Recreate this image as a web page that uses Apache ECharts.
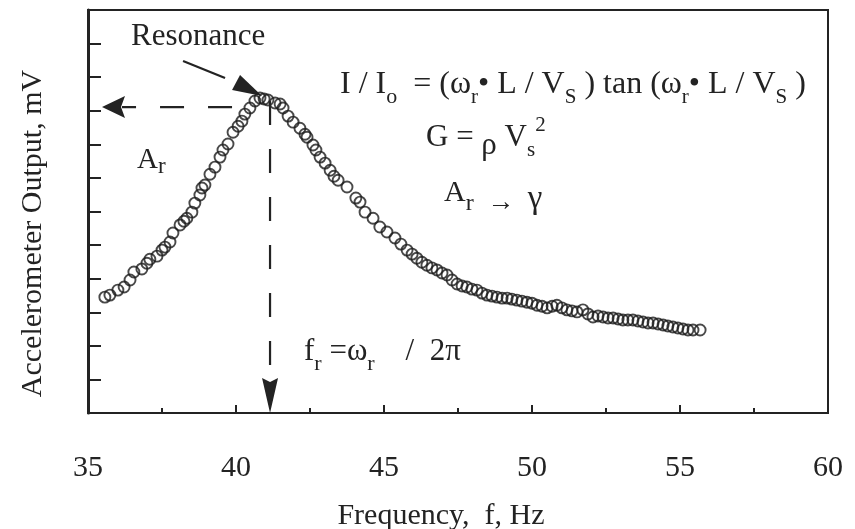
<!DOCTYPE html>
<html>
<head>
<meta charset="utf-8">
<script src="https://cdn.jsdelivr.net/npm/echarts@6/dist/echarts.min.js"></script>
<style>
  html, body { margin: 0; padding: 0; background: #ffffff; }
  #chart { width: 855px; height: 529px; }
</style>
</head>
<body>
<div id="chart"></div>
<script>
// Measured response of the accelerometer over the frequency sweep
const freqHz = [
  35.57, 35.74, 36.01, 36.22, 36.42, 36.55, 36.82, 36.99, 37.09, 37.33,
  37.50, 37.60, 37.77, 37.87, 38.11, 38.24, 38.34, 38.51, 38.61, 38.78,
  38.85, 38.95, 39.12, 39.29, 39.46, 39.56, 39.73, 39.90, 40.07, 40.20,
  40.30, 40.47, 40.64, 40.81, 40.95, 41.08, 41.32, 41.49, 41.59, 41.76,
  41.93, 42.16, 42.33, 42.40, 42.60, 42.70, 42.84, 43.01, 43.18, 43.31,
  43.45, 43.75, 44.05, 44.19, 44.36, 44.63, 44.86, 45.10, 45.37, 45.57,
  45.78, 45.95, 46.11, 46.28, 46.45, 46.62, 46.79, 46.96, 47.13, 47.30,
  47.47, 47.64, 47.80, 47.97, 48.14, 48.31, 48.48, 48.65, 48.82, 48.99,
  49.16, 49.32, 49.49, 49.66, 49.83, 50.00, 50.17, 50.34, 50.51, 50.68,
  50.84, 51.01, 51.18, 51.35, 51.52, 51.72, 51.89, 52.06, 52.23, 52.40,
  52.57, 52.74, 52.91, 53.07, 53.24, 53.41, 53.58, 53.75, 53.92, 54.09,
  54.26, 54.43, 54.59, 54.76, 54.93, 55.10, 55.27, 55.44, 55.68
];
const outputMv = [
  3.45, 3.51, 3.66, 3.75, 3.96, 4.20, 4.29, 4.46, 4.58, 4.67,
  4.85, 4.94, 5.09, 5.36, 5.60, 5.71, 5.80, 5.98, 6.25, 6.49,
  6.70, 6.79, 7.11, 7.32, 7.62, 7.83, 8.01, 8.36, 8.54, 8.69,
  8.90, 9.08, 9.29, 9.38, 9.35, 9.32, 9.23, 9.20, 9.08, 8.84,
  8.66, 8.48, 8.30, 8.21, 7.98, 7.83, 7.62, 7.44, 7.23, 7.05,
  6.93, 6.73, 6.40, 6.28, 5.98, 5.80, 5.54, 5.39, 5.21, 5.03,
  4.85, 4.73, 4.61, 4.49, 4.40, 4.32, 4.26, 4.17, 4.11, 3.96,
  3.84, 3.78, 3.75, 3.69, 3.66, 3.57, 3.51, 3.48, 3.45, 3.42,
  3.42, 3.39, 3.36, 3.33, 3.30, 3.27, 3.21, 3.18, 3.13, 3.18,
  3.21, 3.13, 3.07, 3.04, 3.01, 3.07, 2.95, 2.86, 2.89, 2.86,
  2.83, 2.83, 2.80, 2.77, 2.77, 2.77, 2.74, 2.71, 2.68, 2.68,
  2.65, 2.62, 2.59, 2.56, 2.53, 2.50, 2.47, 2.47, 2.47
];

// Axis extents and tick labels
const xTickLabels = ['35', '40', '45', '50', '55', '60'];
const xMin = 35, xMax = 60, xStep = 5;
const yMin = 0, yMax = 12, yStep = 1;

// Resonance read-off: frequency f_r and amplitude A_r
const resonanceFreq = 41.15;
const resonanceAmp = 9.11;

const INK = '#232323';
const SERIF = '"Liberation Serif", "DejaVu Serif", serif';

const points = freqHz.map((f, i) => [f, outputMv[i]]);

// Dashed read-off lines with arrowheads and the "Resonance" pointer
function renderResonance(params, api) {
  const p = api.coord([api.value(0), api.value(1)]);
  const axisLeft = api.coord([xMin, api.value(1)]);
  const axisBottom = api.coord([api.value(0), yMin]);
  const x0 = axisLeft[0], yb = axisBottom[1];
  const dash = { stroke: INK, lineWidth: 2.2, lineDash: [24, 24] };
  return {
    type: 'group',
    children: [
      { type: 'line', shape: { x1: p[0] - 38, y1: p[1], x2: x0 + 34, y2: p[1] }, style: dash },
      { type: 'polygon', shape: { points: [[x0 + 14, p[1]], [x0 + 37, p[1] - 11], [x0 + 33, p[1]], [x0 + 37, p[1] + 11]] }, style: { fill: INK } },
      { type: 'line', shape: { x1: p[0], y1: p[1] - 6, x2: p[0], y2: yb - 34 }, style: dash },
      { type: 'polygon', shape: { points: [[p[0], yb], [p[0] - 8, yb - 35], [p[0], yb - 31], [p[0] + 8, yb - 35]] }, style: { fill: INK } },
      { type: 'line', shape: { x1: p[0] - 87, y1: p[1] - 46, x2: p[0] - 45, y2: p[1] - 29 }, style: { stroke: INK, lineWidth: 2.2 } },
      { type: 'polygon', shape: { points: [[p[0] - 30, p[1] - 32], [p[0] - 38, p[1] - 17], [p[0] - 8, p[1] - 11]] }, style: { fill: INK } }
    ]
  };
}

function label(x, y, text, rich) {
  return {
    type: 'text', x: x, y: y, silent: true,
    style: { text: text, rich: rich, align: 'left', verticalAlign: 'middle', fill: INK, font: '28px ' + SERIF }
  };
}

const chart = echarts.init(document.getElementById('chart'), null, { renderer: 'canvas' });

chart.setOption({
  animation: false,
  backgroundColor: '#ffffff',
  grid: {
    left: 88, right: 27, top: 10, bottom: 116, outerBoundsMode: 'none',
    show: true, borderColor: INK, borderWidth: 2, backgroundColor: 'transparent'
  },
  xAxis: {
    type: 'value', min: xMin, max: xMax, interval: xStep,
    name: 'Frequency,  f, Hz', nameLocation: 'middle', nameGap: 88,
    nameTextStyle: { fontFamily: SERIF, fontSize: 30, color: INK, padding: [0, 34, 0, 0] },
    axisLine: { lineStyle: { color: INK, width: 2 } },
    axisTick: { inside: true, length: 8, lineStyle: { color: INK, width: 2 } },
    minorTick: { show: true, splitNumber: 2, length: 5, lineStyle: { color: INK, width: 2 } },
    splitLine: { show: false },
    axisLabel: {
      margin: 40, fontFamily: SERIF, fontSize: 30, color: INK,
      formatter: (v) => xTickLabels[Math.round((v - xMin) / xStep)]
    }
  },
  yAxis: {
    type: 'value', min: yMin, max: yMax, interval: yStep,
    name: 'Accelerometer Output, mV', nameLocation: 'middle', nameGap: 40,
    nameTextStyle: { fontFamily: SERIF, fontSize: 30, color: INK, padding: [0, 44, 0, 0] },
    axisLine: { lineStyle: { color: INK, width: 3 } },
    axisTick: { inside: true, length: 13, lineStyle: { color: INK, width: 2 } },
    splitLine: { show: false },
    axisLabel: { show: false }
  },
  series: [
    {
      name: 'Accelerometer output',
      type: 'scatter',
      data: points,
      symbol: 'circle',
      symbolSize: 11,
      itemStyle: { color: 'rgba(255,255,255,0)', borderColor: '#1c1c1c', borderWidth: 1.9 },
      emphasis: { disabled: true },
      z: 3
    },
    {
      name: 'Resonance',
      type: 'custom',
      data: [[resonanceFreq, resonanceAmp]],
      renderItem: renderResonance,
      silent: true,
      z: 4
    }
  ],
  graphic: [
    label(131, 37, '{m|Resonance}', { m: { fontSize: 31, fontFamily: SERIF, lineHeight: 36 } }),
    label(137, 160, '{m|A}{s|r}', {
      m: { fontSize: 29, fontFamily: SERIF, lineHeight: 36, verticalAlign: 'middle' },
      s: { fontSize: 23, fontFamily: SERIF, lineHeight: 26, verticalAlign: 'bottom' }
    }),
    label(340, 85, '{m|I / I}{o|o}{m|  = (\u03c9}{r|r}{m|\u2022 L / V}{S|S}{m| ) tan (\u03c9}{r|r}{m|\u2022 L / V}{S|S}{m| )}', {
      m: { fontSize: 32, fontFamily: SERIF, lineHeight: 46, verticalAlign: 'middle' },
      o: { fontSize: 22, fontFamily: SERIF, lineHeight: 12, verticalAlign: 'bottom' },
      r: { fontSize: 21, fontFamily: SERIF, lineHeight: 24, verticalAlign: 'bottom' },
      S: { fontSize: 21, fontFamily: SERIF, lineHeight: 28, verticalAlign: 'bottom' }
    }),
    label(426, 138, '{m|G = }{p|\u03c1}{m| V}{s|s}{t|2}', {
      m: { fontSize: 31, fontFamily: SERIF, lineHeight: 46, verticalAlign: 'middle' },
      p: { fontSize: 31, fontFamily: SERIF, lineHeight: 28, verticalAlign: 'bottom' },
      s: { fontSize: 21, fontFamily: SERIF, lineHeight: 20, verticalAlign: 'bottom' },
      t: { fontSize: 21, fontFamily: SERIF, lineHeight: 26, verticalAlign: 'top' }
    }),
    label(444, 193, '{m|A}{s|r}{a|  \u2192  }{g|\u03b3}', {
      m: { fontSize: 30, fontFamily: SERIF, lineHeight: 46, verticalAlign: 'middle' },
      s: { fontSize: 24, fontFamily: SERIF, lineHeight: 30, verticalAlign: 'bottom' },
      a: { fontSize: 27, fontFamily: SERIF, lineHeight: 24, verticalAlign: 'bottom' },
      g: { fontSize: 33, fontFamily: SERIF, lineHeight: 36, verticalAlign: 'bottom' }
    }),
    label(304, 352, '{m|f}{s|r}{m| =\u03c9}{s|r}{m|    /  2\u03c0}', {
      m: { fontSize: 31, fontFamily: SERIF, lineHeight: 46, verticalAlign: 'middle' },
      s: { fontSize: 22, fontFamily: SERIF, lineHeight: 36, verticalAlign: 'bottom' }
    })
  ]
});
</script>
</body>
</html>
